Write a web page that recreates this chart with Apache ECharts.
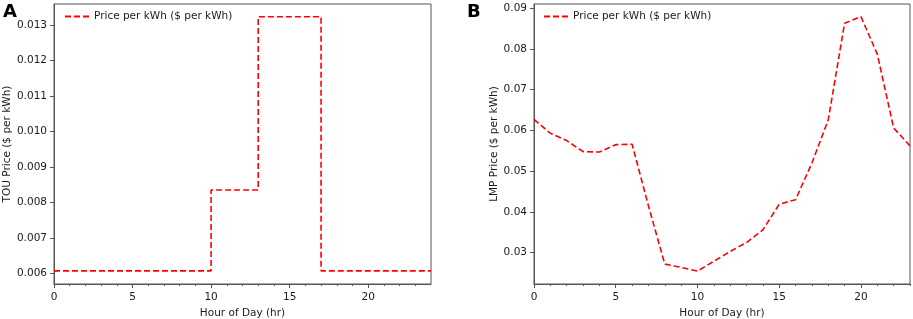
<!DOCTYPE html>
<html>
<head>
<meta charset="utf-8">
<script src="https://cdn.jsdelivr.net/npm/echarts@6/dist/echarts.min.js"></script>
<style>html,body{margin:0;padding:0;background:#fff}#c{width:913px;height:319px}</style>
</head>
<body>
<div id="c"></div>
<script>
// ---- data ----
const seriesName = 'Price per kWh ($ per kWh)';
const touHours = [0,1,2,3,4,5,6,7,8,9,10,11,12,13,14,15,16,17,18,19,20,21,22,23,24];
const touPrices = [0.00607,0.00607,0.00607,0.00607,0.00607,0.00607,0.00607,0.00607,0.00607,0.00607,
                   0.00835,0.00835,0.00835,
                   0.01323,0.01323,0.01323,0.01323,
                   0.00607,0.00607,0.00607,0.00607,0.00607,0.00607,0.00607,0.00607];
const lmpHours = [0,1,2,3,4,5,6,7,8,9,10,11,12,13,14,15,16,17,18,19,20,21,22,23];
const lmpPrices = [0.0627,0.0593,0.0575,0.0548,0.0547,0.0565,0.0566,0.0415,0.0272,0.0264,0.0255,0.0279,
                   0.0303,0.0325,0.0356,0.0419,0.0430,0.0520,0.0626,0.0863,0.0879,0.0787,0.0606,0.0562];
const xTicks = [0,5,10,15,20];
const touTicks = [0.006,0.007,0.008,0.009,0.010,0.011,0.012,0.013];
const lmpTicks = [0.03,0.04,0.05,0.06,0.07,0.08,0.09];
const xMinor = [1,2,3,4,6,7,8,9,11,12,13,14,16,17,18,19,21,22,23];
const xTitle = 'Hour of Day (hr)';
const touTitle = 'TOU Price ($ per kWh)';
const lmpTitle = 'LMP Price ($ per kWh)';

const FONT = 'DejaVu Sans';
const TXT = '#1a1a1a';
const AX = '#555';
const RED = '#f00';

function xAxis(gi, max) {
  return {
    type: 'value', gridIndex: gi, min: 0, max: max,
    name: xTitle, nameLocation: 'middle', nameGap: 23,
    nameTextStyle: {fontFamily: FONT, fontSize: 10.5, color: TXT},
    axisLine: {show: true, onZero: false, lineStyle: {color: AX, width: 1}},
    axisTick: {show: true, inside: false, length: 4, customValues: xTicks, lineStyle: {color: AX}},
    minorTick: {show: false},
    axisLabel: {show: true, customValues: xTicks, fontFamily: FONT, fontSize: 10.5, color: TXT, margin: 8},
    splitLine: {show: false}
  };
}
function xMinorAxis(gi, max) {
  return {
    type: 'value', gridIndex: gi, min: 0, max: max, position: 'bottom',
    axisLine: {show: false},
    axisTick: {show: true, length: 2, customValues: xMinor, lineStyle: {color: AX}},
    axisLabel: {show: false, customValues: []},
    splitLine: {show: false}
  };
}
function yAxis(gi, min, max, ticks, title, dec, gap) {
  return {
    type: 'value', gridIndex: gi, min: min, max: max,
    name: title, nameLocation: 'middle', nameGap: gap, nameRotate: 90,
    nameTextStyle: {fontFamily: FONT, fontSize: 10.5, color: TXT},
    axisLine: {show: true, lineStyle: {color: AX, width: 1}},
    axisTick: {show: true, length: 4, customValues: ticks, lineStyle: {color: AX}},
    axisLabel: {show: true, customValues: ticks, fontFamily: FONT, fontSize: 10.5, color: TXT, margin: 7,
                formatter: v => v.toFixed(dec)},
    splitLine: {show: false}
  };
}
function legend(left) {
  return {left: left, top: 11, padding: 0, itemWidth: 24, itemHeight: 12, data: [seriesName],
          itemStyle: {opacity: 0},
          textStyle: {fontFamily: FONT, fontSize: 10.5, color: TXT}, selectedMode: false};
}

const chart = echarts.init(document.getElementById('c'), null, {renderer: 'canvas'});
chart.setOption({
  animation: false,
  backgroundColor: '#fff',
  grid: [
    {left: 54, top: 4, width: 377, height: 280, show: true, borderColor: AX, borderWidth: 1,
     containLabel: false, outerBoundsMode: 'none'},
    {left: 534, top: 4, width: 376, height: 280, show: true, borderColor: AX, borderWidth: 1,
     containLabel: false, outerBoundsMode: 'none'}
  ],
  xAxis: [xAxis(0, 24), xAxis(1, 23), xMinorAxis(0, 24), xMinorAxis(1, 23)],
  yAxis: [
    yAxis(0, 0.0057, 0.01359, touTicks, touTitle, 3, 40),
    yAxis(1, 0.02233, 0.0910, lmpTicks, lmpTitle, 2, 34)
  ],
  legend: [legend(64), legend(543)],
  title: [
    {text: 'A', left: 3, top: 3, padding: 0, textStyle: {fontFamily: FONT, fontSize: 18, fontWeight: 'bold', color: '#000'}},
    {text: 'B', left: 467, top: 3, padding: 0, textStyle: {fontFamily: FONT, fontSize: 18, fontWeight: 'bold', color: '#000'}}
  ],
  series: [
    {name: seriesName, type: 'line', xAxisIndex: 0, yAxisIndex: 0, step: 'end', showSymbol: false, symbol: 'none',
     data: touHours.map((h, i) => [h, touPrices[i]]),
     lineStyle: {color: RED, width: 1.6, type: [6, 3]}, itemStyle: {color: RED}},
    {name: seriesName, type: 'line', xAxisIndex: 1, yAxisIndex: 1, showSymbol: false, symbol: 'none',
     data: lmpHours.map((h, i) => [h, lmpPrices[i]]),
     lineStyle: {color: RED, width: 1.6, type: [6, 3]}, itemStyle: {color: RED}}
  ]
});
</script>
</body>
</html>
